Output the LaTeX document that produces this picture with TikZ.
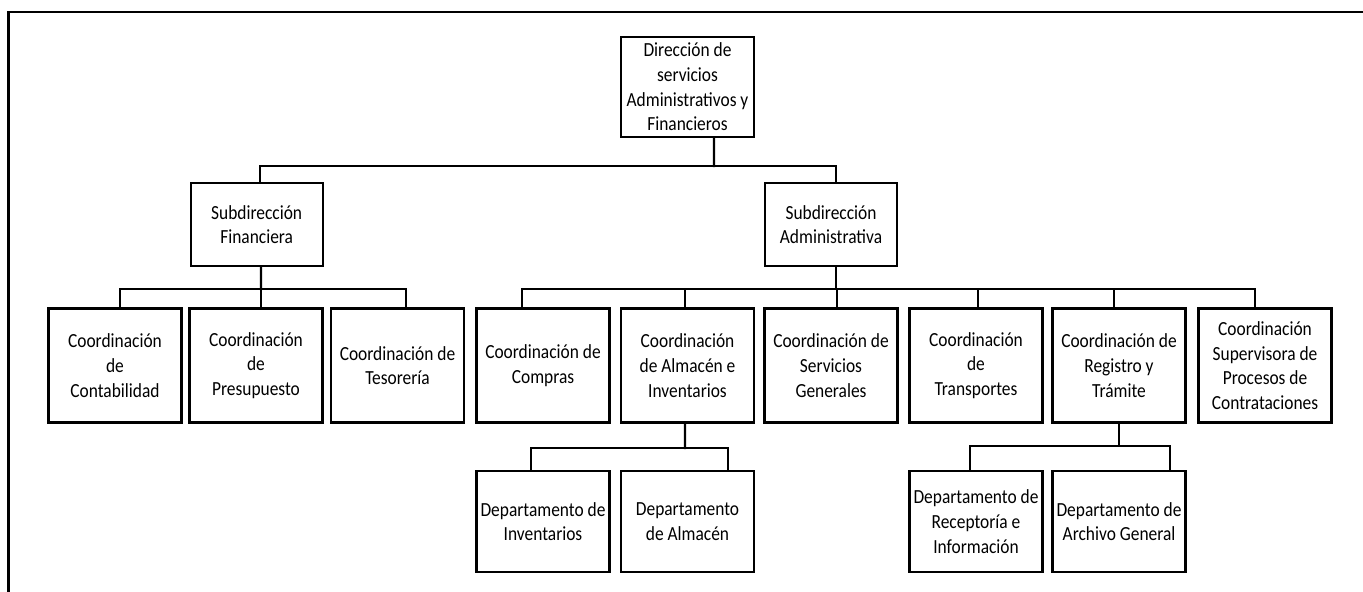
\documentclass[tikz,border=0pt]{standalone}
\usepackage{fontspec}
\setmainfont{Carlito}[FakeStretch=0.87]
\begin{document}
\begin{tikzpicture}[x=0.75pt,y=-0.75pt,
  box/.style={draw=black,line width=1.8pt,fill=white,inner sep=0pt,align=center,
    font=\fontsize{15}{18.5}\selectfont,minimum width=99.75pt},
  topbox/.style={box,minimum height=75pt},
  subbox/.style={box,minimum width=99pt,minimum height=62.25pt},
  coordbox/.style={box,minimum height=85.5pt},
  deptbox/.style={box,minimum height=75.75pt},
  link/.style={draw=black,line width=1.8pt,line cap=rect}]
\useasboundingbox (0,0) rectangle (1363,592);
% outer frame
\draw[line width=1.6pt] (8.5,592) -- (8.5,12) -- (1363,12);
% nodes
\node[topbox] (top) at (687.5,87) {Dirección de\\servicios\\Administrativos y\\Financieros};
\node[subbox] (subfin) at (256.7,224.5) {Subdirección\\Financiera};
\node[subbox] (subadm) at (831,224.5) {Subdirección\\Administrativa};
\node[coordbox] (conta) at (115,365.5) {Coordinación\\de\\Contabilidad};
\node[coordbox] (presu) at (256,365.5) {Coordinación\\de\\Presupuesto};
\node[coordbox] (teso) at (397.5,365.5) {Coordinación de\\Tesorería};
\node[coordbox] (compras) at (543,365.5) {Coordinación de\\Compras};
\node[coordbox] (almac) at (687.5,365.5) {Coordinación\\de Almacén e\\Inventarios};
\node[coordbox] (servi) at (831,365.5) {Coordinación de\\Servicios\\Generales};
\node[coordbox] (transp) at (976,365.5) {Coordinación\\de\\Transportes};
\node[coordbox] (regis) at (1119,365.5) {Coordinación de\\Registro y\\Trámite};
\node[coordbox] (super) at (1265,365.5) {Coordinación\\Supervisora de\\Procesos de\\Contrataciones};
\node[deptbox] (dinv) at (543,521.5) {Departamento de\\Inventarios};
\node[deptbox] (dalm) at (687.5,521.5) {Departamento\\de Almacén};
\node[deptbox] (drec) at (976,521.5) {Departamento de\\Receptoría e\\Información};
\node[deptbox] (darc) at (1119,521.5) {Departamento de\\Archivo General};
% bus junctions
\coordinate (b1) at (714,166);
\coordinate (b2L) at (261,289);
\coordinate (b2R) at (836,289);
\coordinate (b3L) at (685,448);
\coordinate (b3R) at (1119,446);
% connectors
\draw[link] ([xshift=19.9pt]top.south) -- (b1);
\draw[link] ([xshift=2.5pt]subfin.north) |- (b1);
\draw[link] ([xshift=3.75pt]subadm.north) |- (b1);
\draw[link] ([xshift=3.2pt]subfin.south) -- (b2L);
\draw[link] ([xshift=3.75pt]conta.north) |- (b2L);
\draw[link] ([xshift=3.75pt]presu.north) |- (b2L);
\draw[link] ([xshift=6.4pt]teso.north) |- (b2L);
\draw[link] ([xshift=3.75pt]subadm.south) -- (b2R);
\draw[link] ([xshift=-15.75pt]compras.north) |- (b2R);
\draw[link] ([xshift=-1.9pt]almac.north) |- (b2R);
\draw[link] ([xshift=4.5pt]servi.north) |- (b2R);
\draw[link] ([xshift=1.5pt]transp.north) |- (b2R);
\draw[link] ([xshift=-3.75pt]regis.north) |- (b2R);
\draw[link] ([xshift=-7.5pt]super.north) |- (b2R);
\draw[link] ([xshift=-1.9pt]almac.south) -- (b3L);
\draw[link] ([xshift=-9pt]dinv.north) |- (b3L);
\draw[link] ([xshift=30.4pt]dalm.north) |- (b3L);
\draw[link] (regis.south) -- (b3R);
\draw[link] ([xshift=-4.5pt]drec.north) |- (b3R);
\draw[link] ([xshift=38.25pt]darc.north) |- (b3R);
\end{tikzpicture}
\end{document}
